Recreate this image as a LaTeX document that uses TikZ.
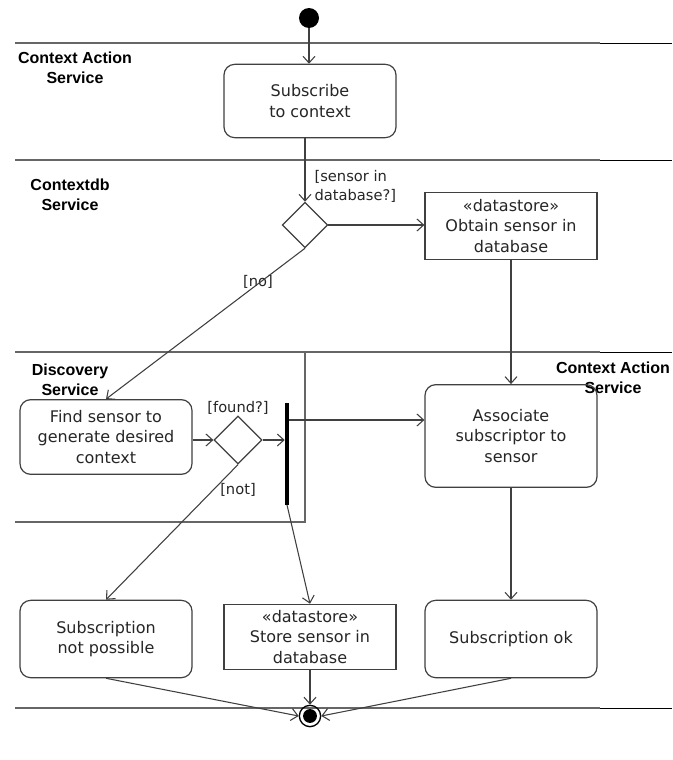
\documentclass[tikz,border=0pt]{standalone}
\usepackage{fontspec}
\setmainfont{DejaVu Sans}
\newfontfamily\lanefont{Liberation Sans}
\usetikzlibrary{arrows.meta,shapes.geometric}
\begin{document}
\begin{tikzpicture}[x=0.75pt,y=-0.75pt,
 act/.style={draw=black!75, line width=0.9pt, rounded corners=8pt, align=center, minimum width=129pt, inner sep=2pt, text=black!85, font=\fontsize{12}{15.5}\selectfont},
 storebox/.style={draw=black!75, line width=0.9pt, align=center, minimum width=129pt, inner sep=1pt, text=black!85, font=\fontsize{12}{15.5}\selectfont},
 dec/.style={draw=black!75, line width=0.9pt, diamond, aspect=1, inner sep=0pt},
 flow/.style={draw=black!75, line width=0.8pt, -{Straight Barb[length=5pt,width=9pt]}},
 lane/.style={draw=black!60, line width=1.3pt},
 laneend/.style={draw=black, line width=0.6pt},
 lanelabel/.style={font=\lanefont\bfseries\fontsize{12}{15}\selectfont, align=center, text=black},
 guard/.style={font=\fontsize{11}{14}\selectfont, align=left, text=black!85, inner sep=1pt}
]
\useasboundingbox (0,0) rectangle (672,760);
\fill[white] (0,0) rectangle (672,760);
% swimlane lines
\foreach \y in {43,160,352,708}{
  \draw[lane] (15,\y) -- (600,\y);
  \draw[laneend] (600,\y) -- (672,\y);
}
\draw[lane] (15,522) -- (305,522) -- (305,352);
% lane labels
\node[lanelabel] (l1) at (75,68) {Context Action\\Service};
\node[lanelabel] (l2) at (70,195) {Contextdb\\Service};
\node[lanelabel] (l3) at (70,380) {Discovery\\Service};
\node[lanelabel] (l4) at (613,378) {Context Action\\Service};
% nodes
\node[circle, fill=black, minimum size=15pt, inner sep=0] (start) at (309,18) {};
\node[act, minimum height=55pt] (sub) at (310,101) {Subscribe\\to context};
\node[dec, minimum width=34pt, minimum height=34pt] (d1) at (305,225) {};
\node[storebox, minimum height=50pt] (obt) at (511,226) {«datastore»\\Obtain sensor in\\database};
\node[act, minimum height=56pt] (find) at (106,437) {Find sensor to\\generate desired\\context};
\node[dec, minimum width=36pt, minimum height=36pt] (d2) at (238,440) {};
\node[fill=black, minimum width=3pt, minimum height=76pt, inner sep=0] (bar) at (287,454) {};
\node[act, minimum height=77pt] (assoc) at (511,436) {Associate\\subscriptor to\\sensor};
\node[act, minimum height=58pt] (notpos) at (106,639) {Subscription\\not possible};
\node[storebox, minimum height=49pt] (store) at (310,637) {«datastore»\\Store sensor in\\database};
\node[act, minimum height=58pt] (ok) at (511,639) {Subscription ok};
\node[circle, draw=black, line width=1pt, minimum size=16pt, inner sep=0] (end) at (310,716) {};
\fill[black] (end) circle (5.2pt);
% guards
\node[guard, anchor=north west] (g1) at (313,169) {[sensor in\\database?]};
\node[guard] (g2) at (258,282) {[no]};
\node[guard] (g3) at (238,408) {[found?]};
\node[guard] (g4) at (238,490) {[not]};
% flows
\draw[flow] (start) -- (sub.north -| start);
\draw[flow] (sub.south -| d1) -- (d1.north);
\draw[flow] (d1.east) -- (obt.west |- d1.east);
\draw[flow] (d1.south) -- (find.north);
\draw[flow] (obt.south) -- (assoc.north);
\draw[flow] (find.east |- d2) -- (d2.west);
\draw[flow] (d2.east) -- (bar.west |- d2.east);
\coordinate (barout) at (bar.east |- 0,420);
\draw[flow] (barout) -- (assoc.west |- barout);
\draw[flow] (d2.south) -- (notpos.north);
\draw[flow] (bar.south) -- (store.north);
\draw[flow] (assoc.south) -- (ok.north);
\draw[flow] (notpos.south) -- (end.west);
\draw[flow] (store.south) -- (end.north);
\draw[flow] (ok.south) -- (end.east);
\end{tikzpicture}
\end{document}
